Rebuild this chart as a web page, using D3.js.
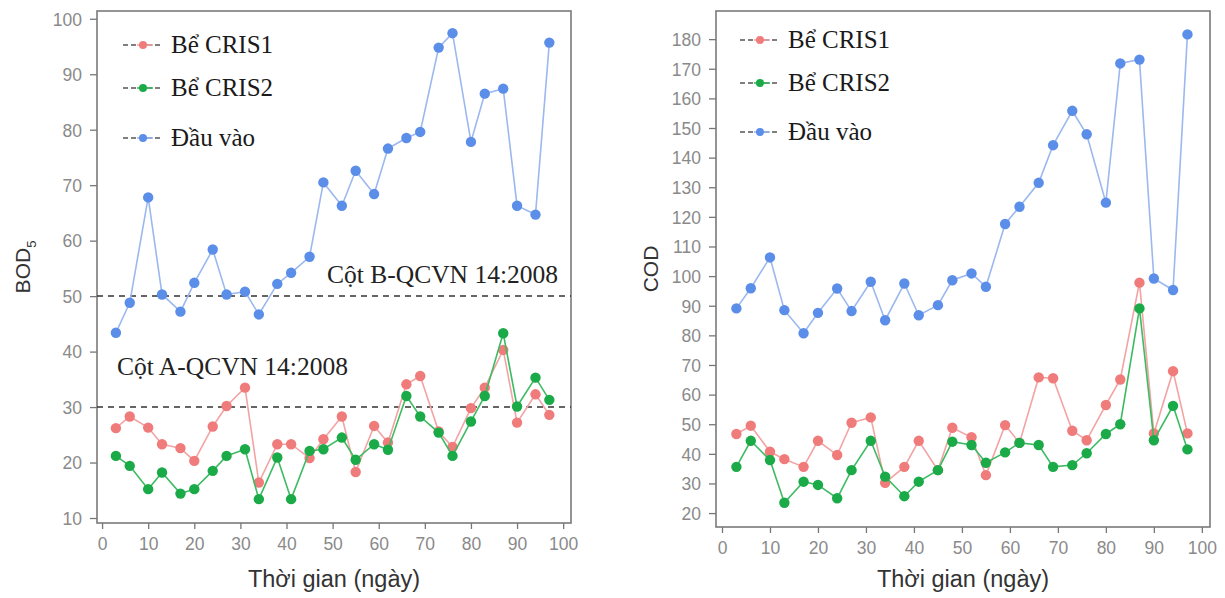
<!DOCTYPE html>
<html lang="vi">
<head>
<meta charset="utf-8" />
<title>BOD5 / COD - CRIS</title>
<script src="https://cdn.jsdelivr.net/npm/d3@7"></script>
<style>
  body { margin: 0; background: #fff; }
  svg { display: block; }
  .tick text { font-family: "Liberation Sans", Arial, sans-serif; fill: #8a8a8a; }
</style>
</head>
<body>
<svg id="chart" width="1225" height="598"></svg>
<script>
/*************************** Data ***************************/

var days = [3, 6, 10, 13, 17, 20, 24, 27, 31, 34, 38, 41, 45, 48,
            52, 55, 59, 62, 66, 69, 73, 76, 80, 83, 87, 90, 94, 97];

var seriesNames = ["Bể CRIS1", "Bể CRIS2", "Đầu vào"];

// BOD5
var bodCris1 = [26.2, 28.3, 26.3, 23.3, 22.6, 20.3, 26.5, 30.2, 33.5, 16.4, 23.3, 23.3, 20.8, 24.2,
                28.3, 18.3, 26.6, 23.6, 34.1, 35.6, 25.6, 22.8, 29.8, 33.5, 40.3, 27.2, 32.3, 28.6];
var bodCris2 = [21.2, 19.4, 15.2, 18.2, 14.4, 15.2, 18.5, 21.2, 22.4, 13.4, 20.9, 13.4, 22.1, 22.4,
                24.5, 20.5, 23.3, 22.3, 32.0, 28.3, 25.4, 21.2, 27.4, 32.0, 43.3, 30.1, 35.3, 31.3];
var bodInput = [43.4, 48.8, 67.8, 50.3, 47.2, 52.4, 58.4, 50.3, 50.8, 46.7, 52.2, 54.2, 57.1, 70.5,
                66.3, 72.6, 68.4, 76.6, 78.5, 79.6, 94.8, 97.4, 77.8, 86.5, 87.4, 66.3, 64.7, 95.7];

// COD
var codCris1 = [46.7, 49.5, 40.7, 38.2, 35.6, 44.4, 39.6, 50.5, 52.3, 30.2, 35.6, 44.4, 34.5, 48.8,
                45.6, 32.8, 49.7, 43.7, 65.8, 65.5, 47.8, 44.6, 56.5, 65.1, 97.8, 46.9, 67.9, 46.9];
var codCris2 = [35.6, 44.4, 37.9, 23.5, 30.6, 29.5, 25.0, 34.5, 44.4, 32.3, 25.7, 30.6, 34.5, 44.1,
                43.0, 37.0, 40.5, 43.7, 43.0, 35.6, 36.2, 40.2, 46.7, 50.0, 89.1, 44.6, 56.2, 41.5];
var codInput = [89.1, 95.9, 106.3, 88.5, 80.7, 87.6, 95.8, 88.2, 98.1, 85.1, 97.5, 86.8, 90.2, 98.6,
                100.9, 96.4, 117.6, 123.4, 131.5, 144.2, 155.8, 147.9, 124.8, 171.8, 173.1, 99.2, 95.3, 181.6];

var xTicks = [0, 10, 20, 30, 40, 50, 60, 70, 80, 90, 100];
var bodTicks = [10, 20, 30, 40, 50, 60, 70, 80, 90, 100];
var codTicks = [20, 30, 40, 50, 60, 70, 80, 90, 100, 110, 120, 130, 140, 150, 160, 170, 180];

var bodLimits = [
  { value: 50, label: "Cột B-QCVN 14:2008" },
  { value: 30, label: "Cột A-QCVN 14:2008" }
];

/*************************** Styles ***************************/

var markerColors = ["#f07b7b", "#1aaa48", "#5b8ee8"];
var lineColors = ["#f3a3a3", "#3dbb62", "#9bb8ef"];
var sansFont = "'Liberation Sans', Arial, sans-serif";
var serifFont = "'Liberation Serif', 'Times New Roman', serif";

var svg = d3.select("#chart");

/*************************** Panel builder ***************************/

function drawPanel(opt) {
  var g = svg.append("g");
  var x = d3.scaleLinear().domain(opt.xDomain).range([opt.left, opt.right]);
  var y = d3.scaleLinear().domain(opt.yDomain).range([opt.bottom, opt.top]);

  // x axis
  var xa = g.append("g")
    .attr("transform", "translate(0," + opt.bottom + ")")
    .call(d3.axisBottom(x).tickValues(xTicks).tickSize(6).tickPadding(9));
  xa.selectAll("text").style("font-size", "17.5px");
  xa.selectAll("line").attr("stroke", "#777").attr("stroke-width", 1.3);
  xa.select(".domain").remove();

  // y axis
  var ya = g.append("g")
    .attr("transform", "translate(" + opt.left + ",0)")
    .call(d3.axisLeft(y).tickValues(opt.yTicks).tickSize(7).tickPadding(8));
  ya.selectAll("text").style("font-size", "17.5px").attr("dy", "0.36em");
  ya.selectAll("line").attr("stroke", "#777").attr("stroke-width", 1.3);
  ya.select(".domain").remove();

  // plot box
  g.append("rect")
    .attr("x", opt.left).attr("y", opt.top)
    .attr("width", opt.right - opt.left).attr("height", opt.bottom - opt.top)
    .attr("fill", "none").attr("stroke", "#7a7a7a").attr("stroke-width", 1.6);

  // limit lines
  (opt.limits || []).forEach(function (d, i) {
    g.append("line")
      .attr("x1", opt.left).attr("x2", opt.right)
      .attr("y1", y(d.value)).attr("y2", y(d.value))
      .attr("stroke", "#333").attr("stroke-width", 1.5)
      .attr("stroke-dasharray", "6,5");
    var t = g.append("text")
      .attr("font-family", serifFont).attr("font-size", 25.5).attr("fill", "#222")
      .text(d.label);
    if (i === 0) {
      t.attr("x", opt.right - 13).attr("y", y(d.value) - 13).attr("text-anchor", "end");
    } else {
      t.attr("x", opt.left + 20).attr("y", y(d.value) - 32);
    }
  });

  // series
  var line = d3.line().x(function (d) { return x(d[0]); }).y(function (d) { return y(d[1]); });
  var order = [2, 0, 1];
  order.forEach(function (k) {
    var pts = days.map(function (dd, i) { return [dd, opt.series[k][i]]; });
    g.append("path").datum(pts)
      .attr("d", line).attr("fill", "none")
      .attr("stroke", lineColors[k]).attr("stroke-width", 1.6);
    g.selectAll(null).data(pts).enter().append("circle")
      .attr("cx", function (d) { return x(d[0]); })
      .attr("cy", function (d) { return y(d[1]); })
      .attr("r", 5.2)
      .attr("fill", markerColors[k]);
  });

  // legend
  seriesNames.forEach(function (name, k) {
    var cy = opt.legendY[k];
    g.append("line")
      .attr("x1", opt.legendX).attr("x2", opt.legendX + 40)
      .attr("y1", cy).attr("y2", cy)
      .attr("stroke", "#555").attr("stroke-width", 1.4)
      .attr("stroke-dasharray", "5,3");
    g.append("line")
      .attr("x1", opt.legendX + 14).attr("x2", opt.legendX + 30)
      .attr("y1", cy).attr("y2", cy)
      .attr("stroke", lineColors[k]).attr("stroke-width", 1.6);
    g.append("circle")
      .attr("cx", opt.legendX + 20).attr("cy", cy).attr("r", 4)
      .attr("fill", markerColors[k]);
    g.append("text")
      .attr("x", opt.legendX + 48).attr("y", cy + 8)
      .attr("font-family", serifFont).attr("font-size", 25).attr("fill", "#1a1a1a")
      .text(name);
  });

  // axis titles
  g.append("text")
    .attr("x", (opt.left + opt.right) / 2).attr("y", 587)
    .attr("text-anchor", "middle")
    .attr("font-family", sansFont).attr("font-size", 23.5).attr("fill", "#333")
    .text("Thời gian (ngày)");

  var yt = g.append("text")
    .attr("transform", "translate(" + opt.yTitleX + "," + ((opt.top + opt.bottom) / 2) + ") rotate(-90)")
    .attr("text-anchor", "middle")
    .attr("font-family", sansFont).attr("font-size", 21).attr("fill", "#333");
  yt.append("tspan").text(opt.yTitle);
  if (opt.ySub) {
    yt.append("tspan").attr("font-size", 13).attr("dy", 6).text(opt.ySub);
  }
}

/*************************** Panels ***************************/

drawPanel({
  left: 97, right: 571, top: 11, bottom: 523,
  xDomain: [-1.1, 101.7], yDomain: [9.1, 101.4],
  yTicks: bodTicks,
  series: [bodCris1, bodCris2, bodInput],
  limits: bodLimits,
  legendX: 123, legendY: [45, 88, 138],
  yTitle: "BOD", ySub: "5", yTitleX: 30
});

drawPanel({
  left: 716, right: 1210, top: 11, bottom: 527,
  xDomain: [-1.25, 101.7], yDomain: [15.3, 189.5],
  yTicks: codTicks,
  series: [codCris1, codCris2, codInput],
  limits: [],
  legendX: 740, legendY: [40, 83, 132],
  yTitle: "COD", yTitleX: 658
});
</script>
</body>
</html>
